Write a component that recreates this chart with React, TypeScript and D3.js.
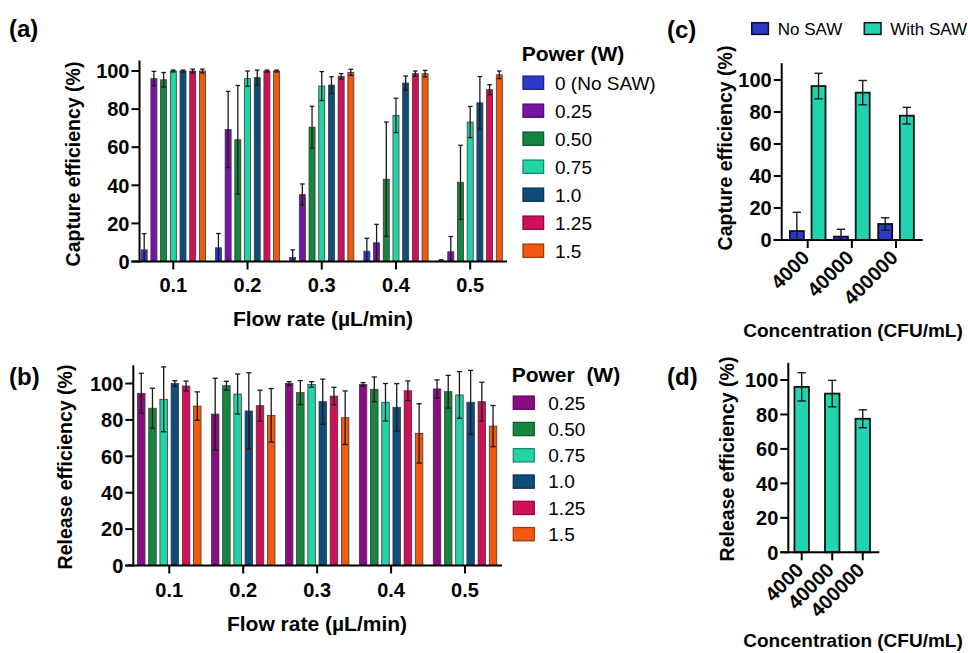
import React from 'react';
import * as d3 from 'd3';

const FONT = "'Liberation Sans', Arial, Helvetica, sans-serif";

// ---------- data ----------
const flowRates = ["0.1", "0.2", "0.3", "0.4", "0.5"];
const capturePowers = ["0 (No SAW)", "0.25", "0.50", "0.75", "1.0", "1.25", "1.5"];
const captureMeans = [
  [6.1, 7.2, 2.1, 5.4, 0.4],
  [96, 69.3, 35.1, 9.8, 5.1],
  [95.4, 63.9, 70.5, 43.2, 41.6],
  [100, 96, 92.1, 76.7, 73.2],
  [100, 96.5, 92.6, 93.7, 83.3],
  [100, 100, 97.2, 98.6, 90.2],
  [100, 100, 99.3, 98.6, 98],
];
const captureErrors = [
  [8.5, 7.5, 4, 6.8, 0.5],
  [3.8, 20, 5.6, 9.7, 8],
  [3.8, 28.5, 11, 30, 19.4],
  [0.5, 4, 7.6, 9, 8.2],
  [0.5, 4, 4.4, 3.7, 13.8],
  [1, 0.5, 1.4, 1.4, 2.6],
  [1, 0.5, 1.6, 1.7, 2],
];
const releasePowers = ["0.25", "0.50", "0.75", "1.0", "1.25", "1.5"];
const releaseMeans = [
  [94.6, 83.2, 100, 99.5, 97],
  [86.4, 98.8, 95, 96.8, 95.5],
  [91.3, 94.2, 99.5, 89.7, 93.7],
  [100, 84.9, 90, 86.9, 89.7],
  [98.6, 87.8, 93.1, 96, 90],
  [87.6, 82.5, 81.2, 72.6, 76.6],
];
const releaseErrors = [
  [11, 19.7, 1, 1, 5],
  [11, 2.4, 6.6, 6.8, 9],
  [17.8, 11, 1.5, 10.3, 12.8],
  [1.5, 21, 12.4, 13, 17.5],
  [2.7, 8.5, 4.8, 5.4, 10.7],
  [7.8, 14.7, 14.7, 16.3, 11.3],
];
const yTicks = [0, 20, 40, 60, 80, 100];
const concentrations = ["4000", "40000", "400000"];
const sawGroups = ["No SAW", "With SAW"];
const sawCaptureMeans = [
  [5.6, 2.1, 10],
  [96.2, 92.1, 77.7],
];
const sawCaptureErrors = [
  [11.7, 4.6, 3.9],
  [8, 7.6, 5.2],
];
const concReleaseMeans = [[96, 92.1, 77.5]];
const concReleaseErrors = [[8.2, 7.7, 5.2]];

// ---------- styles ----------
const captureColors = ["#2a38cc", "#7713a6", "#158640", "#22d3a5", "#0f4c7a", "#d2105a", "#f2590f"];
const releaseColors = ["#8a0c82", "#158640", "#22d3a5", "#0f4c7a", "#d2105a", "#f2590f"];
const sawColors = ["#2a38cc", "#22d3b0"];
const concColors = ["#22d3b0"];

const TICK_FS = 20;

type PanelProps = {
  categories: string[];
  series: string[];
  means: number[][];
  errs: number[][];
  colors: string[];
  bandRange: [number, number];
  innerPad: number;
  outerPad: number;
  y0: number;
  y100: number;
  yMax: number;
  axisX: number;
  axisRight: number;
  capHalf: number;
  barStroke: number;
  barStrokeColor: string;
  errStroke: number;
  rotatedLabels?: boolean;
  labelOffset?: number;
};

function BarPanel(p: PanelProps) {
  const x0 = d3.scaleBand<string>().domain(p.categories).range(p.bandRange).padding(0);
  const x1 = d3
    .scaleBand<string>()
    .domain(p.series)
    .range([0, x0.bandwidth()])
    .paddingInner(p.innerPad)
    .paddingOuter(p.outerPad);
  const unit = (p.y0 - p.y100) / 100;
  const y = d3.scaleLinear().domain([0, p.yMax]).range([p.y0, p.y0 - unit * p.yMax]);
  const bars: React.ReactNode[] = [];
  const errs: React.ReactNode[] = [];
  p.series.forEach((s, j) => {
    p.categories.forEach((c, i) => {
      const v = p.means[j][i];
      const e = p.errs[j][i];
      const bx = (x0(c) as number) + (x1(s) as number);
      const bw = x1.bandwidth();
      bars.push(
        <rect
          key={`b-${j}-${i}`}
          x={bx}
          y={y(v)}
          width={bw}
          height={Math.max(0, y(0) - y(v))}
          fill={p.colors[j]}
          stroke={p.barStrokeColor}
          strokeWidth={p.barStroke}
        />
      );
      const cx = bx + bw / 2;
      const top = y(v + e);
      const bot = y(Math.max(0, v - e));
      errs.push(
        <g key={`e-${j}-${i}`} stroke="#1a1a1a" strokeWidth={p.errStroke}>
          <line x1={cx} x2={cx} y1={top} y2={bot} />
          <line x1={cx - p.capHalf} x2={cx + p.capHalf} y1={top} y2={top} />
          {v - e > 0.5 && <line x1={cx - p.capHalf} x2={cx + p.capHalf} y1={bot} y2={bot} />}
        </g>
      );
    });
  });
  return (
    <g>
      {bars}
      {errs}
      {/* y axis */}
      <line x1={p.axisX} x2={p.axisX} y1={y(0) + 1} y2={y(p.yMax)} stroke="#000" strokeWidth={2} />
      {yTicks.map((t) => (
        <g key={`yt-${t}`}>
          <line x1={p.axisX - 8} x2={p.axisX} y1={y(t)} y2={y(t)} stroke="#000" strokeWidth={2} />
          <text
            x={p.axisX - 10}
            y={y(t)}
            dy="0.36em"
            textAnchor="end"
            fontFamily={FONT}
            fontWeight="bold"
            fontSize={TICK_FS}
          >
            {t}
          </text>
        </g>
      ))}
      {/* x axis */}
      <line x1={p.axisX - 8} x2={p.axisRight} y1={y(0)} y2={y(0)} stroke="#000" strokeWidth={2} />
      {p.categories.map((c) => {
        const cx = (x0(c) as number) + x0.bandwidth() / 2;
        return (
          <g key={`xt-${c}`}>
            <line x1={cx} x2={cx} y1={y(0)} y2={y(0) + 8} stroke="#000" strokeWidth={2} />
            {p.rotatedLabels ? (
              <text
                transform={`translate(${cx + 3},${y(0) + 19}) rotate(-45)`}
                textAnchor="end"
                fontFamily={FONT}
                fontWeight="bold"
                fontSize={TICK_FS}
              >
                {c}
              </text>
            ) : (
              <text
                x={cx}
                y={y(0) + (p.labelOffset ?? 30)}
                textAnchor="middle"
                fontFamily={FONT}
                fontWeight="bold"
                fontSize={TICK_FS}
              >
                {c}
              </text>
            )}
          </g>
        );
      })}
    </g>
  );
}

function Legend({
  title,
  items,
  colors,
  x,
  titleY,
  firstY,
  step,
  textX,
  swW,
  swH,
}: {
  title: string;
  items: string[];
  colors: string[];
  x: number;
  titleY: number;
  firstY: number;
  step: number;
  textX: number;
  swW: number;
  swH: number;
}) {
  return (
    <g fontFamily={FONT}>
      <text x={x} y={titleY} fontWeight="bold" fontSize={21} style={{ whiteSpace: 'pre' }}>
        {title}
      </text>
      {items.map((it, i) => {
        const cy = firstY + i * step;
        return (
          <g key={it}>
            <rect
              x={x + (textX - x - swW) * 0.1}
              y={cy - swH / 2}
              width={swW}
              height={swH}
              fill={colors[i]}
              stroke={d3.color(colors[i])!.darker(1.3).toString()}
              strokeWidth={1.2}
            />
            <text x={textX} y={cy} dy="0.36em" fontSize={19}>
              {it}
            </text>
          </g>
        );
      })}
    </g>
  );
}

function RotTitle({ x, y, text }: { x: number; y: number; text: string }) {
  return (
    <text
      transform={`translate(${x},${y}) rotate(-90)`}
      textAnchor="middle"
      dy="0.36em"
      fontFamily={FONT}
      fontWeight="bold"
      fontSize={19.5}
    >
      {text}
    </text>
  );
}

function Label({ x, y, text, size = 19, anchor = 'start' }: { x: number; y: number; text: string; size?: number; anchor?: string }) {
  return (
    <text x={x} y={y} textAnchor={anchor as any} fontFamily={FONT} fontWeight="bold" fontSize={size}>
      {text}
    </text>
  );
}

export default function App() {
  return (
    <svg
      width={968}
      height={653}
      viewBox="0 0 968 653"
      style={{ position: 'absolute', left: 0, top: 0, background: '#fff' }}
    >
      <rect x={0} y={0} width={968} height={653} fill="#fff" />
      {/* (a) */}
      <Label x={9} y={37} text="(a)" size={24} />
      <RotTitle x={73} y={164} text="Capture efficiency (%)" />
      <BarPanel
        categories={flowRates}
        series={capturePowers}
        means={captureMeans}
        errs={captureErrors}
        colors={captureColors}
        bandRange={[136.2, 507.3]}
        innerPad={0.38}
        outerPad={0.515}
        y0={261.5}
        y100={71}
        yMax={105.5}
        axisX={139.5}
        axisRight={507}
        capHalf={2.3}
        barStroke={0.8}
        barStrokeColor="#3a3a3a"
        errStroke={1.3}
        labelOffset={30.5}
      />
      <Label x={323} y={325.5} text="Flow rate (µL/min)" anchor="middle" size={21} />
      <Legend
        title="Power (W)"
        items={capturePowers}
        colors={captureColors}
        x={521.7}
        titleY={60.5}
        firstY={82.7}
        step={28}
        textX={555}
        swW={20.7}
        swH={13.3}
      />

      {/* (b) */}
      <Label x={9} y={385} text="(b)" size={24} />
      <RotTitle x={65} y={467} text="Release efficiency (%)" />
      <BarPanel
        categories={flowRates}
        series={releasePowers}
        means={releaseMeans}
        errs={releaseErrors}
        colors={releaseColors}
        bandRange={[132.3, 502]}
        innerPad={0.33}
        outerPad={0.465}
        y0={565.5}
        y100={383.5}
        yMax={110}
        axisX={133.3}
        axisRight={502}
        capHalf={2.6}
        barStroke={0.8}
        barStrokeColor="#3a3a3a"
        errStroke={1.3}
        labelOffset={31.5}
      />
      <Label x={317} y={630.5} text="Flow rate (µL/min)" anchor="middle" size={21} />
      <Legend
        title="Power  (W)"
        items={releasePowers}
        colors={releaseColors}
        x={511.7}
        titleY={382}
        firstY={402.7}
        step={26.3}
        textX={548.3}
        swW={21}
        swH={13.3}
      />

      {/* (c) */}
      <Label x={667} y={38} text="(c)" size={24} />
      <g fontFamily={FONT}>
        {sawGroups.map((g, i) => {
          const sx = [751.7, 864.3][i];
          return (
            <g key={g}>
              <rect
                x={sx}
                y={22.7}
                width={16.7}
                height={11.7}
                fill={sawColors[i]}
                stroke="#111"
                strokeWidth={1.5}
              />
              <text x={sx + 26} y={28.5} dy="0.36em" fontSize={17}>
                {g}
              </text>
            </g>
          );
        })}
      </g>
      <RotTitle x={725} y={148} text="Capture efficiency (%)" />
      <BarPanel
        categories={concentrations}
        series={sawGroups}
        means={sawCaptureMeans}
        errs={sawCaptureErrors}
        colors={sawColors}
        bandRange={[785.6, 918.1]}
        innerPad={0.355}
        outerPad={0.196}
        y0={240}
        y100={80}
        yMax={110.5}
        axisX={781.7}
        axisRight={922.7}
        capHalf={4.2}
        barStroke={1.8}
        barStrokeColor="#111"
        errStroke={1.4}
        rotatedLabels
      />
      <Label x={853} y={337} text="Concentration (CFU/mL)" anchor="middle" />

      {/* (d) */}
      <Label x={667} y={385} text="(d)" size={24} />
      <RotTitle x={727} y={459} text="Release efficiency (%)" />
      <BarPanel
        categories={concentrations}
        series={["With SAW"]}
        means={concReleaseMeans}
        errs={concReleaseErrors}
        colors={concColors}
        bandRange={[786.45, 878]}
        innerPad={0.525}
        outerPad={0.2625}
        y0={552.3}
        y100={380}
        yMax={110}
        axisX={788.3}
        axisRight={879.3}
        capHalf={4.2}
        barStroke={1.8}
        barStrokeColor="#111"
        errStroke={1.4}
        rotatedLabels
      />
      <Label x={853} y={647} text="Concentration (CFU/mL)" anchor="middle" />
    </svg>
  );
}
